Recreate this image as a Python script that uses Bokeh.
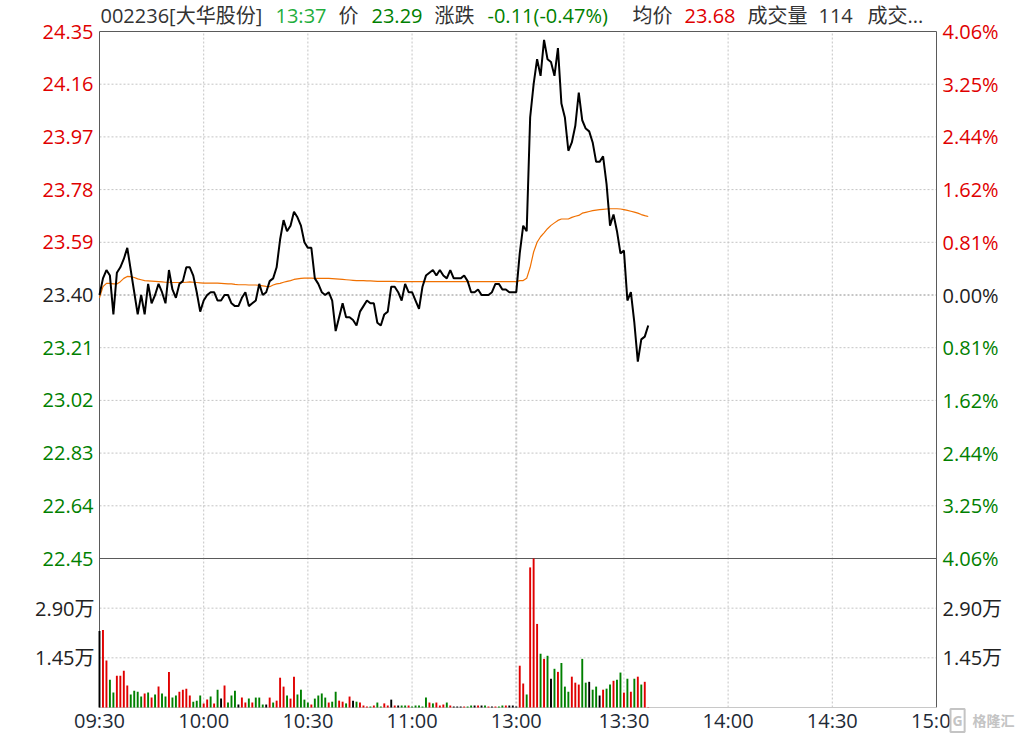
from bokeh.plotting import figure
from bokeh.models import Range1d, Label, ColumnDataSource
from bokeh.embed import file_html
from bokeh.resources import INLINE

# ---------------- data ----------------
STOCK = "002236[大华股份]"
LAST_TIME = "13:37"
LAST_PRICE = "23.29"
CHANGE = "-0.11(-0.47%)"
AVG_LAST = "23.68"
LAST_VOL = "114"

PREV_CLOSE = 23.40
PRICE_TICKS = [24.35, 24.16, 23.97, 23.78, 23.59, 23.40, 23.21, 23.02, 22.83, 22.64, 22.45]
PCT_LABELS = ["4.06%", "3.25%", "2.44%", "1.62%", "0.81%", "0.00%",
              "0.81%", "1.62%", "2.44%", "3.25%", "4.06%"]
VOL_TICKS = [29000, 14500]
VOL_LABELS = ["2.90万", "1.45万"]
VOL_PANEL_MAX = 43500
TIME_TICKS = [0, 30, 60, 90, 120, 151, 181, 211, 241]
TIME_LABELS = ["09:30", "10:00", "10:30", "11:00", "13:00", "13:30", "14:00", "14:30", "15:00"]

# one value per minute: 09:30..11:30 (index 0..120), 13:00..13:37 (index 121..158)
PRICE = [
    23.40, 23.46, 23.49, 23.47, 23.33, 23.48, 23.50, 23.53, 23.57, 23.49,
    23.41, 23.33, 23.40, 23.33, 23.44, 23.37, 23.40, 23.44, 23.41, 23.37,
    23.49, 23.42, 23.39, 23.44, 23.45, 23.50, 23.50, 23.47, 23.41, 23.34,
    23.38, 23.40, 23.41, 23.41, 23.38, 23.38, 23.40, 23.40, 23.37, 23.36,
    23.36, 23.39, 23.41, 23.36, 23.37, 23.38, 23.44, 23.40, 23.41, 23.45,
    23.46, 23.50, 23.60, 23.67, 23.63, 23.65, 23.70, 23.68, 23.65, 23.59,
    23.57, 23.57, 23.46, 23.44, 23.41, 23.40, 23.41, 23.38, 23.27, 23.32,
    23.37, 23.32, 23.32, 23.31, 23.29, 23.34, 23.36, 23.38, 23.37, 23.37,
    23.30, 23.29, 23.33, 23.34, 23.43, 23.43, 23.41, 23.38, 23.44, 23.41,
    23.41, 23.38, 23.35, 23.43, 23.47, 23.48, 23.49, 23.47, 23.49, 23.47,
    23.46, 23.49, 23.46, 23.46, 23.46, 23.47, 23.45, 23.41, 23.41, 23.42,
    23.40, 23.40, 23.40, 23.41, 23.44, 23.44, 23.42, 23.42, 23.41, 23.41,
    23.41,
    23.55, 23.65, 23.63, 24.04, 24.16, 24.25, 24.19, 24.32, 24.25, 24.24,
    24.19, 24.29, 24.09, 24.04, 23.92, 23.95, 24.01, 24.13, 24.03, 24.00,
    23.99, 23.95, 23.88, 23.88, 23.90, 23.80, 23.65, 23.69, 23.63, 23.55,
    23.56, 23.38, 23.41, 23.30, 23.16, 23.24, 23.25, 23.29,
]

AVG = [
    23.390, 23.430, 23.442, 23.442, 23.440, 23.440, 23.448, 23.460, 23.467, 23.466,
    23.463, 23.458, 23.455, 23.452, 23.451, 23.450, 23.449, 23.448, 23.447, 23.446,
    23.446, 23.445, 23.445, 23.445, 23.445, 23.446, 23.447, 23.446, 23.445, 23.444,
    23.443, 23.443, 23.443, 23.443, 23.443, 23.442, 23.441, 23.440, 23.440, 23.438,
    23.437, 23.437, 23.437, 23.436, 23.436, 23.436, 23.435, 23.433, 23.431, 23.430,
    23.436, 23.440, 23.442, 23.446, 23.449, 23.452, 23.456, 23.458, 23.460, 23.461,
    23.461, 23.461, 23.460, 23.460, 23.460, 23.460, 23.460, 23.459, 23.458, 23.457,
    23.456, 23.455, 23.454, 23.453, 23.452, 23.452, 23.452, 23.451, 23.451, 23.450,
    23.449, 23.449, 23.449, 23.449, 23.449, 23.449, 23.448, 23.448, 23.448, 23.448,
    23.448, 23.448, 23.448, 23.448, 23.448, 23.448, 23.448, 23.448, 23.448, 23.448,
    23.448, 23.448, 23.448, 23.448, 23.448, 23.448, 23.448, 23.448, 23.448, 23.448,
    23.448, 23.448, 23.448, 23.448, 23.448, 23.448, 23.448, 23.448, 23.448, 23.448,
    23.448,
    23.452, 23.452, 23.460, 23.500, 23.555, 23.590, 23.610, 23.624, 23.639, 23.651,
    23.660, 23.669, 23.674, 23.674, 23.674, 23.680, 23.684, 23.687, 23.695, 23.698,
    23.701, 23.704, 23.706, 23.708, 23.709, 23.710, 23.711, 23.711, 23.711, 23.710,
    23.708, 23.705, 23.702, 23.699, 23.695, 23.690, 23.686, 23.683,
]

VOLUME = [
    22300, 22600, 13700, 8100, 4350, 9300, 9300, 10700, 6400, 3800,
    4900, 4600, 3200, 4100, 4350, 2900, 3800, 6100, 4100, 3200,
    10400, 2900, 3500, 4600, 5200, 5500, 3500, 1700, 2000, 3500,
    1200, 2300, 3200, 1200, 5200, 2600, 6400, 1450, 3500, 4900,
    870, 2900, 1450, 2600, 1450, 2900, 2900, 870, 870, 2900,
    1450, 2000, 8700, 6100, 3500, 2600, 9000, 3800, 5200, 2300,
    1450, 870, 2600, 3500, 4100, 2900, 1450, 1700, 4600, 2000,
    1700, 1200, 3200, 2000, 1700, 1450, 580, 290, 290, 580,
    1450, 290, 1200, 580, 2300, 580, 580, 580, 580, 580,
    290, 580, 580, 290, 2900, 1450, 1200, 1450, 580, 870,
    1450, 580, 290, 290, 290, 290, 290, 580, 580, 580,
    580, 580, 290, 290, 290, 290, 580, 580, 580, 580,
    290,
    12200, 7000, 3800, 40900, 43500, 24400, 15700, 14200, 15100, 8400,
    11300, 10400, 13000, 6100, 4600, 9000, 7250, 6700, 14200, 7250,
    7500, 5200, 6100, 3500, 5200, 5500, 6700, 7800, 8100, 10200,
    4350, 8400, 4600, 8400, 9000, 6700, 7500, 114,
]

# u = up (red), d = down (green), f = flat (black)
DIRECTION = list(
    "fuudduuuud" "dddudududd" "udduuuuddd" "uududfuddd"
    "fuududddfu" "duuuduuddd" "dudddduddu" "udufduuudu"
    "dduufufddu" "ddddduduuu" "dufffuddfu" "fdufudduff"
    "f"
    "uuduuududf" "duddduuudd" "fddfuddudd" "udududuu"
)

# ---------------- layout & styling ----------------
RED = "#e00000"
GREEN = "#008000"
DARK = "#222222"
FONT = "Open Sans, Noto Sans CJK SC"
FS = "20px"

W, H = 1017, 735
X0_PX, X1_PX = 99, 936          # chart area, canvas pixels
Y_TOP_PX = 31
PRICE_H, VOL_H = 527, 149
Y_BOT_PX = Y_TOP_PX + PRICE_H + VOL_H

t0, t1 = TIME_TICKS[0], TIME_TICKS[-1]
p_top, p_bot = PRICE_TICKS[0], PRICE_TICKS[-1]
xs = (t1 - t0) / (X1_PX - X0_PX)           # minutes per pixel
ps = (p_top - p_bot) / PRICE_H             # price per pixel
vs = VOL_PANEL_MAX / VOL_H                 # shares per pixel
p_floor = p_bot - VOL_H * ps               # price coordinate of chart bottom


def tone(v):
    if v > PREV_CLOSE + 1e-9:
        return RED
    if v < PREV_CLOSE - 1e-9:
        return GREEN
    return DARK


p = figure(width=W, height=H,
           x_range=Range1d(t0 - X0_PX * xs, t1 + (W - X1_PX) * xs),
           y_range=Range1d(p_top - (H - Y_TOP_PX) * ps, p_top + Y_TOP_PX * ps),
           x_axis_type=None, y_axis_type=None,
           toolbar_location=None, output_backend="svg",
           min_border_left=0, min_border_right=0, min_border_top=0, min_border_bottom=0)
p.outline_line_color = None
p.background_fill_color = "white"
p.border_fill_color = "white"
p.extra_y_ranges = {"vol": Range1d(-(H - Y_BOT_PX) * vs, Y_BOT_PX * vs)}

# grid lines (dotted)
GRID = "#c4c4c4"
hg = [t for t in PRICE_TICKS[1:-1]]
p.segment(x0=[t0] * len(hg), x1=[t1] * len(hg), y0=hg, y1=hg,
          line_color=[("#8c8c8c" if abs(t - PREV_CLOSE) < 1e-9 else GRID) for t in hg],
          line_dash="2 2", line_width=1)
p.segment(x0=[t0] * len(VOL_TICKS), x1=[t1] * len(VOL_TICKS), y0=VOL_TICKS, y1=VOL_TICKS,
          y_range_name="vol", line_color=GRID, line_dash="2 2", line_width=1)
vg = TIME_TICKS[1:-1]
p.segment(x0=vg, x1=vg, y0=[p_floor] * len(vg), y1=[p_top] * len(vg),
          line_color=GRID, line_dash="2 2",
          line_width=[2 if t == 120 else 1 for t in vg])

# frame borders
BORDER = "#5a5a5a"
p.segment(x0=[t0, t1, t0, t0], x1=[t0, t1, t1, t1],
          y0=[p_floor, p_floor, p_top, p_bot], y1=[p_top, p_top, p_top, p_bot],
          line_color=BORDER, line_width=1)
p.segment(x0=[t0], x1=[t1], y0=[0], y1=[0], y_range_name="vol",
          line_color="#c8c8c8", line_width=1)

# volume bars
idx = list(range(len(PRICE)))
vol_src = ColumnDataSource(dict(
    x=idx, top=VOLUME,
    color=[{"u": RED, "d": GREEN, "f": "#000000"}[c] for c in DIRECTION],
))
p.vbar(x="x", top="top", bottom=0, width=0.55, source=vol_src,
       y_range_name="vol", fill_color="color", line_color=None)

# price and average lines
p.line(idx, AVG, line_color="#f07000", line_width=1.2)
p.line(idx, PRICE, line_color="#000000", line_width=2)


def lab(x, y, text, color, align="left", size=FS, y_range_name="default", **kw):
    p.add_layout(Label(x=x, y=y, text=text, text_align=align, text_baseline="middle",
                       text_font=FONT, text_font_size=size, text_color=color,
                       y_range_name=y_range_name, **kw))


# left / right price labels
for t, pct in zip(PRICE_TICKS, PCT_LABELS):
    lab(t0 - 6 * xs, t, f"{t:.2f}", tone(t), align="right")
    lab(t1 + 6 * xs, t, pct, tone(t))

# volume labels
for v, txt in zip(VOL_TICKS, VOL_LABELS):
    lab(t0 - 5 * xs, v, txt, DARK, align="right", y_range_name="vol")
    lab(t1 + 6 * xs, v, txt, DARK, y_range_name="vol")

# time labels
y_time = p_floor - 13 * ps
for t, txt in zip(TIME_TICKS, TIME_LABELS):
    lab(t, y_time, txt, "#1e2a36", align="center")

# header line (x positions in canvas pixels)
header = [
    (STOCK, "#333333", 100),
    (LAST_TIME, "#1fae3c", 275),
    ("价", "#333333", 338),
    (LAST_PRICE, GREEN, 371),
    ("涨跌", "#333333", 434),
    (CHANGE, GREEN, 487),
    ("均价", "#333333", 632),
    (AVG_LAST, RED, 684),
    ("成交量", "#333333", 747),
    (LAST_VOL, "#333333", 818),
    ("成交...", "#333333", 867),
]
y_head = p_top + 16 * ps
for txt, col, px in header:
    lab(t0 + (px - X0_PX) * xs, y_head, txt, col)

# watermark
lab(t0 + (950 - X0_PX) * xs, y_time, "G", "#c4c4c4", size="14px",
    text_font_style="bold", border_line_color="#c4c4c4", border_line_width=2,
    padding=2, background_fill_color="white")
lab(t0 + (972 - X0_PX) * xs, y_time, "格隆汇", "#c4c4c4", size="14px",
    text_font_style="bold")

open("out.html", "w").write(file_html(p, INLINE))
